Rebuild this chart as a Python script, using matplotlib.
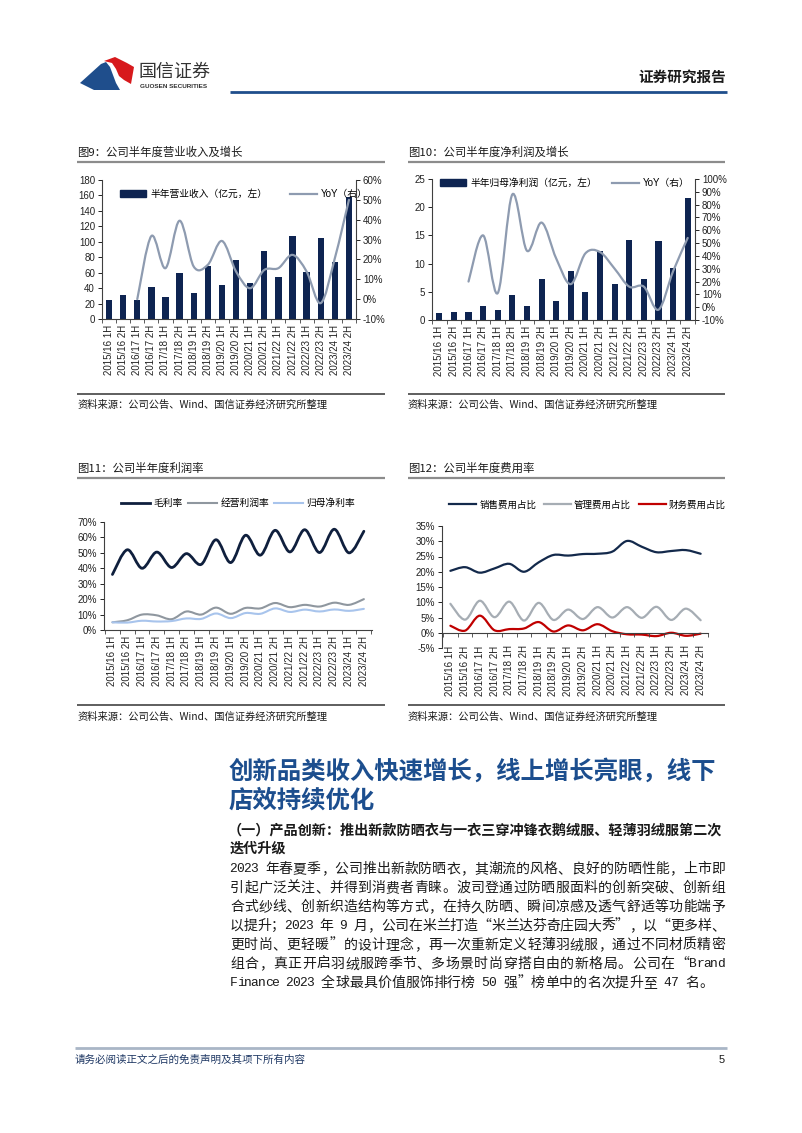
import numpy as np
import matplotlib
matplotlib.use('Agg')
import matplotlib.pyplot as plt
from matplotlib.path import Path
from matplotlib.patches import PathPatch, Polygon, Patch
from matplotlib.lines import Line2D
from matplotlib.ticker import PercentFormatter, MultipleLocator

plt.rcParams['font.family'] = ['Liberation Sans', 'Noto Sans CJK SC', 'DejaVu Sans']
plt.rcParams['axes.unicode_minus'] = False
CJK = ['Noto Sans CJK SC', 'DejaVu Sans']

# ---- data ----
periods = ['2015/16 1H', '2015/16 2H', '2016/17 1H', '2016/17 2H', '2017/18 1H', '2017/18 2H',
           '2018/19 1H', '2018/19 2H', '2019/20 1H', '2019/20 2H', '2020/21 1H', '2020/21 2H',
           '2021/22 1H', '2021/22 2H', '2022/23 1H', '2022/23 2H', '2023/24 1H', '2023/24 2H']

revenue = [25, 31, 25, 41, 29, 59, 34, 68, 44, 77, 46, 88, 54, 108, 61, 105, 74, 158]   # 亿元
revenue_yoy = [None, None, 0, 31.8, 15.6, 39.5, 16.4, 17.3, 29.3, 13.9, 5.5, 14.7,
               15.6, 22.3, 13.9, -2.0, 20.6, 50.0]

net_profit = [1.3, 1.5, 1.5, 2.4, 1.7, 4.4, 2.5, 7.3, 3.4, 8.6, 4.9, 12.3, 6.3, 14.2, 7.3, 14.0, 9.2, 21.6]
net_profit_yoy = [None, None, 20, 56, 11, 88, 44, 66, 38, 18, 42, 43, 30, 16, 16, -2, 28, 54]

gross_margin = [36, 52, 40, 50.5, 40.5, 49.5, 42.5, 58.5, 43.7, 61.4, 48.5, 64.6, 50.6, 65, 50.2, 65.3, 50, 64]
op_margin = [5, 6.3, 10, 9.5, 7, 12, 10, 14.5, 10.5, 14.3, 14, 17.5, 14.8, 16.3, 15.2, 17.7, 16.3, 20]
net_margin = [5, 4.8, 6, 5.5, 5.8, 7.5, 7.2, 10.7, 7.7, 11, 10.5, 14, 11.7, 13.2, 12, 13.3, 12.4, 13.7]

selling_ratio = [20.3, 21.5, 19.7, 21.1, 22.6, 20.0, 23.1, 25.5, 25.3, 25.8, 25.9, 26.6, 30.1, 28.2, 26.4, 26.8, 27.1, 25.9]
admin_ratio = [9.5, 4.3, 10.5, 5.1, 10.2, 4.0, 9.8, 4.2, 7.6, 4.5, 8.4, 5.0, 8.4, 4.9, 8.5, 4.2, 7.9, 4.1]
finance_ratio = [2.3, 0.7, 5.6, 0.8, 1.2, 1.4, 3.5, 0.4, 2.4, 0.8, 2.8, 0.5, -0.5, -0.6, -1.1, 0.0, -1.0, -0.3]

body_lines = [
    "2023 年春夏季，公司推出新款防晒衣，其潮流的风格、良好的防晒性能，上市即",
    "引起广泛关注、并得到消费者青睐。波司登通过防晒服面料的创新突破、创新组",
    "合式纱线、创新织造结构等方式，在持久防晒、瞬间凉感及透气舒适等功能端予",
    "以提升；2023 年 9 月，公司在米兰打造“米兰达芬奇庄园大秀”，以“更多样、",
    "更时尚、更轻暖”的设计理念，再一次重新定义轻薄羽绒服，通过不同材质精密",
    "组合，真正开启羽绒服跨季节、多场景时尚穿搭自由的新格局。公司在“Brand",
    "Finance 2023 全球最具价值服饰排行榜 50 强”榜单中的名次提升至 47 名。",
]

NAVY = '#0E2451'
YOY_GREY = '#8E9BB0'
HEAD_BLUE = '#1C4E8E'
AXIS_C = '#404040'

W, H = 802, 1133
fig = plt.figure(figsize=(W / 100, H / 100), dpi=100)


def fx(x):
    return x / W


def fy(y):
    return 1 - y / H


def box(x0, y0, x1, y1):
    return [x0 / W, 1 - y1 / H, (x1 - x0) / W, (y1 - y0) / H]


def hline(x0, x1, y, color, lw):
    fig.add_artist(Line2D([fx(x0), fx(x1)], [fy(y), fy(y)], transform=fig.transFigure,
                          color=color, lw=lw, solid_capstyle='butt'))


def smooth(ax, xs, ys, color, lw):
    # Excel-style smoothed line: cubic bezier through every data point
    pts = np.array([(x, y) for x, y in zip(xs, ys) if y is not None], dtype=float)
    n = len(pts)
    verts, codes = [pts[0]], [Path.MOVETO]
    for i in range(n - 1):
        p0, p1, p2, p3 = pts[max(i - 1, 0)], pts[i], pts[i + 1], pts[min(i + 2, n - 1)]
        verts += [p1 + (p2 - p0) / 6, p2 - (p3 - p1) / 6, p2]
        codes += [Path.CURVE4] * 3
    ax.add_patch(PathPatch(Path(verts, codes), fill=False, edgecolor=color, lw=lw,
                           capstyle='round', joinstyle='round'))


def base_style(ax, spines=('left', 'bottom'), xpad=4):
    for s in ax.spines:
        ax.spines[s].set_visible(s in spines)
        ax.spines[s].set_color(AXIS_C)
        ax.spines[s].set_linewidth(0.8)
    ax.tick_params(labelsize=7, colors='#222222', length=3, width=0.7, pad=2)
    ax.set_xticks(np.arange(len(periods)))
    ax.set_xticklabels(periods, rotation=90, fontsize=7)
    ax.tick_params(axis='x', length=0, pad=xpad)
    ax.set_xticks(np.arange(len(periods) + 1) - 0.5, minor=True)
    ax.tick_params(axis='x', which='minor', length=3, width=0.6, color=AXIS_C)


# ---- header ----
fig.add_artist(Polygon([(fx(x), fy(y)) for x, y in
                        [(80, 83), (101, 64), (106, 62), (110, 67), (113, 75), (116, 83), (120, 90), (94, 90)]],
                       closed=True, transform=fig.transFigure, color='#1F4E8C', lw=0))
fig.add_artist(Polygon([(fx(x), fy(y)) for x, y in
                        [(104, 61), (115, 57), (127, 63), (134, 67), (131, 84), (124, 80), (119, 76),
                         (116, 69), (112, 63)]],
                       closed=True, transform=fig.transFigure, color='#D7191C', lw=0))
fig.text(fx(139), fy(72), '国信证券', fontsize=13, family=CJK, color='#333333', va='center')
fig.text(fx(140), fy(86.5), 'GUOSEN SECURITIES', fontsize=4.6, weight='bold', color='#333333', va='center')
fig.text(fx(726), fy(77), '证券研究报告', fontsize=10.5, weight='bold', family=CJK, ha='right', va='center',
         color='#1a1a1a')
hline(230, 727, 92, '#1F4E8C', 2)

# ---- chart titles / sources ----
for x0, x1, title in [(77, 385, '图9：公司半年度营业收入及增长'), (408, 725, '图10：公司半年度净利润及增长')]:
    fig.text(fx(x0), fy(152), title, fontsize=8.2, family=CJK, va='center', color='#1a1a1a')
    hline(x0, x1, 162, '#8C8C8C', 1.6)
    hline(x0, x1, 394, '#333333', 1.1)
    fig.text(fx(x0), fy(405), '资料来源：公司公告、Wind、国信证券经济研究所整理', fontsize=7.4, family=CJK,
             va='center', color='#1a1a1a')
for x0, x1, title in [(77, 385, '图11：公司半年度利润率'), (408, 725, '图12：公司半年度费用率')]:
    fig.text(fx(x0), fy(468), title, fontsize=8.2, family=CJK, va='center', color='#1a1a1a')
    hline(x0, x1, 478, '#8C8C8C', 1.6)
    hline(x0, x1, 705, '#333333', 1.1)
    fig.text(fx(x0), fy(717), '资料来源：公司公告、Wind、国信证券经济研究所整理', fontsize=7.4, family=CJK,
             va='center', color='#1a1a1a')

x = np.arange(len(periods))

# ---- 图9 ----
ax9 = fig.add_axes(box(102, 180, 356, 319))
ax9.bar(x, revenue, width=0.45, color=NAVY, zorder=2)
ax9.set_xlim(-0.5, 17.5)
ax9.set_ylim(0, 180)
ax9.yaxis.set_major_locator(MultipleLocator(20))
base_style(ax9)
ax9r = ax9.twinx()
ax9r.set_ylim(-10, 60)
ax9r.yaxis.set_major_locator(MultipleLocator(10))
ax9r.yaxis.set_major_formatter(PercentFormatter(decimals=0))
for s in ax9r.spines:
    ax9r.spines[s].set_visible(s == 'right')
ax9r.spines['right'].set_color(AXIS_C)
ax9r.spines['right'].set_linewidth(0.8)
ax9r.tick_params(labelsize=7, colors='#222222', length=3, width=0.7, pad=2)
smooth(ax9r, x, revenue_yoy, YOY_GREY, 1.6)
ax9r.legend([Patch(color=NAVY), Line2D([], [], color=YOY_GREY, lw=1.6)],
            ['半年营业收入（亿元，左）', 'YoY（右）'], loc='center left',
            bbox_to_anchor=(fx(120), fy(194)), bbox_transform=fig.transFigure, ncol=2, frameon=False,
            fontsize=7, handlelength=2.7, handletextpad=0.4, columnspacing=2.4, borderpad=0, borderaxespad=0)

# ---- 图10 ----
ax10 = fig.add_axes(box(432, 179, 695, 320))
ax10.bar(x, net_profit, width=0.42, color=NAVY, zorder=2)
ax10.set_xlim(-0.47, 17.5)
ax10.set_ylim(0, 25)
ax10.yaxis.set_major_locator(MultipleLocator(5))
base_style(ax10)
ax10r = ax10.twinx()
ax10r.set_ylim(-10, 100)
ax10r.yaxis.set_major_locator(MultipleLocator(10))
ax10r.yaxis.set_major_formatter(PercentFormatter(decimals=0))
for s in ax10r.spines:
    ax10r.spines[s].set_visible(s == 'right')
ax10r.spines['right'].set_color(AXIS_C)
ax10r.spines['right'].set_linewidth(0.8)
ax10r.tick_params(labelsize=7, colors='#222222', length=3, width=0.7, pad=2)
smooth(ax10r, x, net_profit_yoy, YOY_GREY, 1.6)
ax10r.legend([Patch(color=NAVY), Line2D([], [], color=YOY_GREY, lw=1.6)],
             ['半年归母净利润（亿元，左）', 'YoY（右）'], loc='center left',
             bbox_to_anchor=(fx(440), fy(183)), bbox_transform=fig.transFigure, ncol=2, frameon=False,
             fontsize=7, handlelength=2.7, handletextpad=0.4, columnspacing=1.6, borderpad=0, borderaxespad=0)

# ---- 图11 ----
ax11 = fig.add_axes(box(104, 522, 372, 630))
ax11.set_xlim(-0.57, 17.55)
ax11.set_ylim(0, 70)
ax11.yaxis.set_major_locator(MultipleLocator(10))
ax11.yaxis.set_major_formatter(PercentFormatter(decimals=0))
base_style(ax11)
c11 = ['#0F1F3D', '#8F979F', '#A8C4EC']
smooth(ax11, x, gross_margin, c11[0], 2.0)
smooth(ax11, x, op_margin, c11[1], 1.5)
smooth(ax11, x, net_margin, c11[2], 1.5)
ax11.legend([Line2D([], [], color=c11[0], lw=2.0), Line2D([], [], color=c11[1], lw=1.5),
             Line2D([], [], color=c11[2], lw=1.5)], ['毛利率', '经营利润率', '归母净利率'],
            loc='center left', bbox_to_anchor=(fx(121), fy(503)), bbox_transform=fig.transFigure, ncol=3,
            frameon=False, fontsize=7, handlelength=3.0, handletextpad=0.35, columnspacing=0.5,
            borderpad=0, borderaxespad=0)

# ---- 图12 ----
ax12 = fig.add_axes(box(442, 526, 708, 648))
ax12.spines['bottom'].set_position(('data', 0))   # category axis crosses at 0%
ax12.set_xlim(-0.57, 17.5)
ax12.set_ylim(-5, 35)
ax12.yaxis.set_major_locator(MultipleLocator(5))
ax12.yaxis.set_major_formatter(PercentFormatter(decimals=0))
base_style(ax12, xpad=9)
c12 = ['#13294B', '#A6ADB4', '#C00000']
smooth(ax12, x, selling_ratio, c12[0], 1.6)
smooth(ax12, x, admin_ratio, c12[1], 1.6)
smooth(ax12, x, finance_ratio, c12[2], 1.6)
ax12.legend([Line2D([], [], color=c12[0], lw=1.6), Line2D([], [], color=c12[1], lw=1.6),
             Line2D([], [], color=c12[2], lw=1.6)], ['销售费用占比', '管理费用占比', '财务费用占比'],
            loc='center left', bbox_to_anchor=(fx(449), fy(505)), bbox_transform=fig.transFigure, ncol=3,
            frameon=False, fontsize=6.8, handlelength=2.9, handletextpad=0.3, columnspacing=0.8,
            borderpad=0, borderaxespad=0)

# ---- section text ----
fig.text(fx(229), fy(771), '创新品类收入快速增长，线上增长亮眼，线下', fontsize=17.6, weight='bold',
         family=CJK, color=HEAD_BLUE, va='center')
fig.text(fx(229), fy(801), '店效持续优化', fontsize=17.6, weight='bold', family=CJK, color=HEAD_BLUE, va='center')
fig.text(fx(228), fy(830), '（一）产品创新：推出新款防晒衣与一衣三穿冲锋衣鹅绒服、轻薄羽绒服第二次',
         fontsize=10.2, weight='bold', family=CJK, color='#1a1a1a', va='center')
fig.text(fx(230), fy(849), '迭代升级', fontsize=10.2, weight='bold', family=CJK, color='#1a1a1a', va='center')


def text_line(line, x0, y, width=None, unit=14.0):
    # CJK chars take one cell, ASCII half a cell; justified lines stretch to the text block width
    cells = [0.5 if ord(c) < 128 else 1.0 for c in line]
    u = width / sum(cells) if width else unit
    xc = x0
    for c, w in zip(line, cells):
        if c != ' ':
            fam = ['Liberation Mono'] if ord(c) < 128 else CJK
            fig.text(fx(xc + w * u / 2), fy(y), c, ha='center', va='center', fontsize=10 if w == 1 else 9.4,
                     family=fam, color='#1a1a1a')
        xc += w * u


for i, line in enumerate(body_lines):
    last = i == len(body_lines) - 1
    text_line(line, 230, 869 + 19 * i, width=None if last else 495)

# ---- footer ----
hline(75, 727, 1048, '#A9B6C6', 2)
fig.text(fx(75), fy(1060), '请务必阅读正文之后的免责声明及其项下所有内容', fontsize=7.6, family=CJK,
         color='#1F3864', va='center')
fig.text(fx(725), fy(1060), '5', fontsize=8, ha='right', va='center', color='#1a1a1a')

fig.savefig('out.png', dpi=100)
